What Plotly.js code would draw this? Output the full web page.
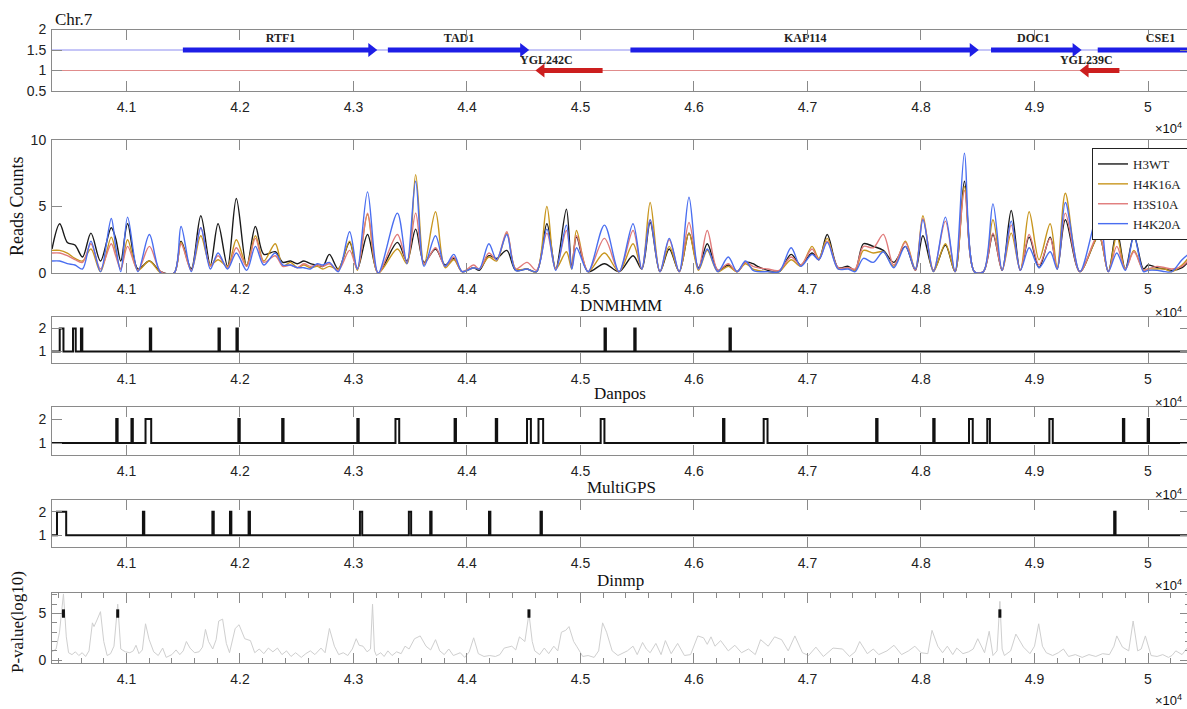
<!DOCTYPE html>
<html><head><meta charset="utf-8">
<script src="https://cdn.plot.ly/plotly-3.0.1.min.js"></script>
<style>html,body{margin:0;padding:0;overflow:hidden;background:#fff}#chart{width:1190px;height:709px}</style>
</head><body><div id="chart"></div>
<script>
// ---------------- DATA ----------------
const xRange = [4.0344, 5.0370];                // x10^4 bp
const xTickVals = [4.1, 4.2, 4.3, 4.4, 4.5, 4.6, 4.7, 4.8, 4.9, 5.0];
const xTickText = ['4.1', '4.2', '4.3', '4.4', '4.5', '4.6', '4.7', '4.8', '4.9', '5'];

// genes
const plusGenes = ['RTF1', 'TAD1', 'KAP114', 'DOC1', 'CSE1'];
const plusStart = [4.1497, 4.3303, 4.5440, 4.8617, 4.9557];
const plusEnd   = [4.3218, 4.4556, 4.8517, 4.9423, 5.0663];
const plusLabelX = [4.2357, 4.3930, 4.6980, 4.8990, 5.0110];
const minusGenes = ['YGL242C', 'YGL239C'];
const minusStart = [4.4595, 4.9389];
const minusEnd   = [4.5195, 4.9748];
const minusLabelX = [4.4700, 4.9456];

// coverage (reads counts)
const covX = [4.0344,4.0412,4.0479,4.0546,4.0613,4.0687,4.0771,4.0866,4.0905,4.0950,
 4.1010,4.1101,4.1202,4.1303,4.1420,4.1481,4.1571,4.1655,4.1739,4.1807,
 4.1891,4.1968,4.2059,4.2136,4.2210,4.2311,4.2378,4.2445,4.2505,4.2563,
 4.2620,4.2681,4.2730,4.2788,4.2866,4.2966,4.3034,4.3124,4.3218,4.3387,
 4.3471,4.3548,4.3622,4.3723,4.3807,4.3884,4.3958,4.4059,4.4109,4.4193,
 4.4261,4.4351,4.4429,4.4529,4.4613,4.4704,4.4782,4.4876,4.4923,4.4965,
 4.5067,4.5211,4.5340,4.5463,4.5540,4.5614,4.5700,4.5782,4.5870,4.5956,
 4.6040,4.6117,4.6210,4.6302,4.6380,4.6453,4.6520,4.6560,4.6650,4.6750,
 4.6856,4.6940,4.7040,4.7100,4.7174,4.7270,4.7359,4.7420,4.7493,4.7580,
 4.7668,4.7760,4.7862,4.7950,4.8017,4.8110,4.8215,4.8300,4.8383,4.8470,
 4.8550,4.8634,4.8715,4.8795,4.8875,4.8953,4.9040,4.9138,4.9200,4.9272,
 4.9400,4.9567,4.9650,4.9725,4.9800,4.9876,4.9960,5.0000,5.0080,5.0150,
 5.0210,5.0300,5.0370];
const h3wt = [1.8,3.7,2.3,2.1,1.2,3.0,0.9,3.4,2.6,0.9,
 3.7,0.3,0.9,0.1,0.0,2.4,0.3,4.3,0.6,3.7,
 0.5,5.6,0.5,3.5,1.4,1.6,0.8,0.9,0.7,0.9,
 0.7,0.6,0.5,1.4,0.3,2.3,0.3,2.9,0.0,2.3,
 0.9,3.3,0.8,1.8,0.6,1.1,0.1,0.4,0.2,1.3,
 1.1,1.7,0.2,0.3,0.1,3.7,0.3,4.8,0.5,2.7,
 0.1,0.7,0.1,1.3,0.3,3.8,0.1,1.8,0.1,3.0,
 0.4,2.2,0.2,0.6,0.1,0.8,0.7,0.5,0.2,0.1,
 1.4,0.6,1.5,1.0,2.9,0.4,0.5,0.2,2.2,2.0,
 1.7,0.8,2.0,0.2,2.8,0.2,2.1,0.1,6.9,0.1,
 0.1,2.9,0.2,4.7,0.2,2.7,0.4,2.7,0.3,4.0,
 0.1,2.8,0.1,3.2,0.3,2.8,0.3,0.6,0.4,0.3,
 0.2,0.4,1.0];
const h4k16a = [1.7,1.7,1.5,1.1,0.9,1.8,0.1,2.7,1.6,0.3,
 2.5,0.2,0.9,0.0,0.0,2.3,0.2,2.8,0.6,1.0,
 0.5,2.5,0.6,2.8,0.9,2.2,0.5,0.8,0.4,0.6,
 0.4,0.5,0.3,0.5,0.3,2.4,0.2,4.4,0.0,1.8,
 0.7,7.4,0.6,4.6,0.4,1.0,0.1,0.4,0.3,1.2,
 0.9,3.0,0.3,0.3,0.1,5.0,0.3,1.6,0.3,3.2,
 0.1,1.5,0.1,2.2,0.3,5.3,0.1,2.0,0.1,3.0,
 0.2,1.7,0.1,0.5,0.1,0.7,0.3,0.2,0.1,0.1,
 1.0,0.5,2.0,1.1,2.6,0.3,0.4,0.2,1.7,1.5,
 1.6,0.5,2.4,0.3,4.3,0.1,2.2,0.1,6.5,0.1,
 0.1,4.0,0.2,3.0,0.2,4.6,1.0,3.7,0.4,6.0,
 0.1,2.8,0.1,2.8,0.3,1.7,0.2,0.3,0.3,0.3,
 0.1,0.6,1.3];
const h3s10a = [1.5,1.5,1.3,1.0,0.8,2.2,0.3,2.2,1.3,0.3,
 2.0,0.2,2.0,0.1,0.0,2.2,0.2,3.4,0.5,1.3,
 0.4,1.9,0.5,2.6,0.8,1.3,0.5,0.6,0.4,0.7,
 0.5,0.6,0.5,0.7,0.2,1.7,0.3,4.5,0.0,2.9,
 0.8,4.5,0.7,1.9,0.5,1.2,0.1,0.6,0.3,1.5,
 1.0,3.1,0.3,0.8,0.2,3.0,0.3,3.2,0.4,2.8,
 0.1,2.6,0.1,3.2,0.3,4.0,0.1,2.5,0.1,3.8,
 0.3,3.2,0.2,0.7,0.1,0.8,0.5,0.4,0.3,0.2,
 1.2,0.6,1.8,1.0,2.4,0.4,0.4,0.3,2.0,1.9,
 2.9,0.6,2.3,0.2,4.1,0.2,3.9,0.1,6.2,0.1,
 0.1,3.0,0.2,3.6,0.2,2.9,0.6,2.6,0.3,4.5,
 0.1,3.0,0.1,2.0,0.3,1.6,0.2,0.3,0.5,0.4,
 0.3,0.5,1.1];
const h4k20a = [0.9,0.9,0.7,0.6,0.3,2.4,0.1,4.1,2.0,0.1,
 4.2,0.1,2.9,0.0,0.0,3.5,0.1,3.4,0.3,1.5,
 0.3,1.5,0.2,2.0,0.6,1.5,0.6,0.6,0.4,0.4,
 0.3,0.7,0.6,0.8,0.1,3.1,0.3,6.1,0.0,4.5,
 0.7,6.9,0.5,2.8,0.5,1.4,0.1,0.4,0.3,2.2,
 1.0,2.9,0.2,0.3,0.1,3.3,0.2,3.6,0.3,1.9,
 0.1,3.6,0.1,3.7,0.3,4.0,0.1,2.6,0.1,5.7,
 0.3,1.8,0.1,1.2,0.1,0.9,0.2,0.1,0.1,0.1,
 1.9,0.5,1.4,1.0,2.3,0.3,0.3,0.1,1.1,0.8,
 1.6,0.4,2.0,0.3,4.0,0.1,4.2,0.1,9.0,0.1,
 0.1,5.2,0.2,3.9,0.2,1.9,0.4,1.6,0.3,5.3,
 0.1,4.6,0.1,1.5,0.2,2.8,0.1,0.2,0.2,0.1,
 0.1,1.0,1.5];
const seriesNames = ['H3WT', 'H4K16A', 'H3S10A', 'H4K20A'];
const seriesColors = ['#1a1a1a', '#c8961e', '#e07a7a', '#4a6ef0'];

// peak calls (intervals, x10^4 bp)
const dnmhmmStart = [4.0412, 4.0529, 4.0599, 4.1206, 4.1811, 4.1969, 4.5212, 4.5474, 4.6313];
const dnmhmmEnd   = [4.0445, 4.0553, 4.0611, 4.1218, 4.1823, 4.1981, 4.5224, 4.5486, 4.6325];
const danposStart = [4.0910, 4.1044, 4.1168, 4.1986, 4.2372, 4.3034, 4.3370, 4.3891, 4.4254, 4.4529, 4.4630,
                     4.5178, 4.6256, 4.6614, 4.7605, 4.8108, 4.8423, 4.8584, 4.9131, 4.9779, 4.9997];
const danposEnd   = [4.0922, 4.1056, 4.1218, 4.1998, 4.2384, 4.3046, 4.3403, 4.3903, 4.4266, 4.4563, 4.4671,
                     4.5211, 4.6268, 4.6648, 4.7617, 4.8120, 4.8456, 4.8607, 4.9161, 4.9791, 5.0009];
const multigpsStart = [4.0388, 4.1145, 4.1757, 4.1912, 4.2076, 4.3057, 4.3488, 4.3676, 4.4194, 4.4648, 4.9702];
const multigpsEnd   = [4.0469, 4.1157, 4.1769, 4.1924, 4.2088, 4.3077, 4.3508, 4.3688, 4.4206, 4.4660, 4.9714];

// Dinmp p-value (log10)
const dinX = [4.0344,4.0380,4.0410,4.0445,4.0470,4.0490,4.0520,4.0550,4.0580,4.0610,
 4.0640,4.0670,4.0700,4.0714,4.0740,4.0771,4.0800,4.0830,4.0860,4.0890,
 4.0923,4.0950,4.0990,4.1030,4.1060,4.1084,4.1110,4.1140,4.1168,4.1200,
 4.1240,4.1280,4.1319,4.1350,4.1400,4.1437,4.1470,4.1500,4.1528,4.1560,
 4.1600,4.1640,4.1670,4.1696,4.1723,4.1760,4.1790,4.1813,4.1847,4.1880,
 4.1908,4.1958,4.1992,4.2042,4.2092,4.2130,4.2170,4.2210,4.2250,4.2290,
 4.2330,4.2370,4.2410,4.2450,4.2490,4.2540,4.2580,4.2620,4.2660,4.2714,
 4.2750,4.2788,4.2832,4.2870,4.2910,4.2950,4.2990,4.3024,4.3050,4.3084,
 4.3120,4.3150,4.3168,4.3185,4.3202,4.3240,4.3270,4.3303,4.3340,4.3380,
 4.3420,4.3454,4.3490,4.3538,4.3588,4.3639,4.3680,4.3723,4.3760,4.3800,
 4.3840,4.3880,4.3941,4.3980,4.4020,4.4059,4.4100,4.4150,4.4200,4.4250,
 4.4290,4.4328,4.4395,4.4430,4.4462,4.4510,4.4546,4.4575,4.4597,4.4640,
 4.4681,4.4720,4.4765,4.4800,4.4832,4.4870,4.4899,4.4940,4.4966,4.5020,
 4.5067,4.5120,4.5160,4.5195,4.5230,4.5279,4.5330,4.5380,4.5413,4.5463,
 4.5500,4.5547,4.5580,4.5614,4.5664,4.5710,4.5748,4.5799,4.5856,4.5916,
 4.5970,4.6034,4.6084,4.6117,4.6150,4.6185,4.6235,4.6302,4.6360,4.6419,
 4.6480,4.6540,4.6587,4.6654,4.6710,4.6772,4.6830,4.6889,4.6956,4.7010,
 4.7074,4.7140,4.7180,4.7225,4.7309,4.7370,4.7420,4.7460,4.7527,4.7580,
 4.7628,4.7700,4.7762,4.7829,4.7890,4.7946,4.8000,4.8060,4.8097,4.8148,
 4.8190,4.8232,4.8280,4.8315,4.8370,4.8420,4.8460,4.8500,4.8560,4.8601,
 4.8634,4.8670,4.8695,4.8715,4.8735,4.8790,4.8836,4.8903,4.8960,4.9000,
 4.9037,4.9070,4.9104,4.9160,4.9210,4.9255,4.9300,4.9360,4.9420,4.9480,
 4.9540,4.9600,4.9660,4.9700,4.9725,4.9775,4.9830,4.9869,4.9909,4.9940,
 4.9977,5.0027,5.0080,5.0130,5.0180,5.0211,5.0245,5.0300,5.0344,5.0370];
const dinY = [0.9,1.2,3.0,7.1,2.5,0.8,0.6,0.9,0.5,0.8,
 0.4,1.0,4.0,3.6,4.3,5.2,2.0,0.5,0.7,1.5,
 6.0,1.2,0.9,0.8,1.0,1.6,0.7,1.1,3.9,2.2,
 0.9,0.5,1.3,0.3,0.6,1.1,0.6,1.0,2.0,1.3,
 0.8,0.9,1.4,3.3,2.0,1.2,2.2,4.2,4.4,1.8,
 0.8,3.4,3.8,2.3,2.1,0.8,1.2,0.7,1.3,0.9,
 1.3,0.6,1.0,0.4,0.8,0.3,0.7,1.0,0.6,1.3,
 0.8,3.4,1.5,0.6,0.8,0.5,1.2,2.3,1.6,1.5,
 0.9,1.2,6.0,1.0,0.5,0.8,0.4,1.0,0.5,0.9,
 0.7,1.5,1.2,2.3,2.6,1.5,1.1,2.2,1.0,0.6,
 1.2,0.5,0.8,0.3,0.9,2.4,0.7,0.4,0.5,0.4,
 0.6,1.3,1.5,1.1,2.5,2.0,5.0,2.0,1.0,0.6,
 1.3,0.7,1.5,1.0,3.0,3.2,3.6,2.0,1.5,0.4,
 0.5,0.3,1.0,4.0,3.0,1.0,0.5,0.8,1.0,1.5,
 0.6,1.9,1.2,0.8,1.8,0.6,2.1,0.7,1.8,0.5,
 0.6,2.6,2.4,1.7,2.5,1.5,2.1,1.0,1.6,0.8,
 1.2,0.6,2.2,1.5,2.5,2.2,1.0,2.6,0.8,0.5,
 1.4,0.4,0.8,1.3,1.2,0.4,0.9,2.0,0.7,1.2,
 0.6,1.0,1.6,0.6,1.0,1.5,0.8,0.7,3.2,1.5,
 0.8,1.5,0.6,1.3,0.7,0.9,1.2,2.3,0.8,3.1,
 0.5,1.0,6.3,1.2,0.5,1.0,2.8,1.4,0.7,1.5,
 3.9,1.5,0.8,0.5,0.8,1.2,0.4,0.6,0.3,0.6,
 0.4,0.7,0.6,1.5,2.6,1.4,1.0,4.2,1.0,1.2,
 2.6,0.5,0.4,0.6,0.3,0.5,1.0,0.6,1.3,0.9];
const dinCallX = [4.0445, 4.0923, 4.4546, 4.8695];
const dinCallY = [5, 5, 5, 5];

// ---------------- LAYOUT HELPERS ----------------
const FIG_W = 1190, FIG_H = 709, ML = 52, PW = FIG_W - ML;
const pxX = px => (px - ML) / PW;
const pxY = py => 1 - py / FIG_H;
const dom = (top, bot) => [pxY(bot), pxY(top)];
const pxPerUnit = PW / (xRange[1] - xRange[0]);
const head = 6.9 / pxPerUnit;

const serif = 'Liberation Serif, Times New Roman, serif';
const sans = 'Liberation Sans, Arial, sans-serif';
const frame = '#8a8a8a';

function stepXY(starts, ends) {
  const x = [xRange[0]], y = [1];
  for (let i = 0; i < starts.length; i++) { x.push(starts[i], starts[i], ends[i], ends[i]); y.push(1, 2, 2, 1); }
  x.push(xRange[1]); y.push(1);
  return {x, y};
}

const traces = [];
// gene panel
traces.push({x: xRange, y: [1.5, 1.5], mode: 'lines', line: {color: '#8c8cf0', width: 1}, xaxis: 'x', yaxis: 'y', showlegend: false, hoverinfo: 'skip'});
traces.push({x: xRange, y: [1, 1], mode: 'lines', line: {color: '#e08c8c', width: 1}, xaxis: 'x', yaxis: 'y', showlegend: false, hoverinfo: 'skip'});
{
  const sx = [], sy = [], hx = [], hy = [];
  plusStart.forEach((s, i) => { sx.push(s, plusEnd[i] - head, null); sy.push(1.5, 1.5, null); hx.push(plusEnd[i] - head); hy.push(1.5); });
  traces.push({x: sx, y: sy, mode: 'lines', line: {color: '#1e1ee6', width: 5}, xaxis: 'x', yaxis: 'y', showlegend: false});
  traces.push({x: hx, y: hy, mode: 'markers', marker: {symbol: 'triangle-right', size: 12, color: '#1e1ee6'}, xaxis: 'x', yaxis: 'y', showlegend: false});
  const rx = [], ry = [], rhx = [], rhy = [];
  minusStart.forEach((s, i) => { rx.push(s + head, minusEnd[i], null); ry.push(1, 1, null); rhx.push(s + head); rhy.push(1); });
  traces.push({x: rx, y: ry, mode: 'lines', line: {color: '#cc1e1e', width: 5}, xaxis: 'x', yaxis: 'y', showlegend: false});
  traces.push({x: rhx, y: rhy, mode: 'markers', marker: {symbol: 'triangle-left', size: 12, color: '#cc1e1e'}, xaxis: 'x', yaxis: 'y', showlegend: false});
  traces.push({x: plusLabelX, y: plusGenes.map(() => 1.77), text: plusGenes.map(g => '<b>' + g + '</b>'), mode: 'text',
    textfont: {family: serif, size: 12, color: '#222'}, xaxis: 'x', yaxis: 'y', showlegend: false});
  traces.push({x: minusLabelX, y: minusGenes.map(() => 1.23), text: minusGenes.map(g => '<b>' + g + '</b>'), mode: 'text',
    textfont: {family: serif, size: 12, color: '#222'}, xaxis: 'x', yaxis: 'y', showlegend: false});
}
// coverage
[h3wt, h4k16a, h3s10a, h4k20a].forEach((ys, i) => {
  traces.push({x: covX, y: ys, name: seriesNames[i], mode: 'lines', line: {color: seriesColors[i], width: 1.4, shape: 'spline', smoothing: 0.9},
    xaxis: 'x2', yaxis: 'y2'});
});
// peak calls
[[dnmhmmStart, dnmhmmEnd], [danposStart, danposEnd], [multigpsStart, multigpsEnd]].forEach((p, i) => {
  const s = stepXY(p[0], p[1]);
  traces.push({x: s.x, y: s.y, mode: 'lines', line: {color: '#111', width: 2}, xaxis: 'x' + (i + 3), yaxis: 'y' + (i + 3), showlegend: false});
});
// dinmp
traces.push({x: dinX, y: dinY, mode: 'lines', line: {color: '#cfcfcf', width: 1}, xaxis: 'x6', yaxis: 'y6', showlegend: false});
traces.push({x: dinCallX, y: dinCallY, mode: 'markers', marker: {symbol: 'line-ns', size: 6, line: {width: 3, color: '#111'}}, xaxis: 'x6', yaxis: 'y6', showlegend: false});

const axBase = {showline: true, mirror: 'ticks', linecolor: frame, linewidth: 1, ticks: 'inside', ticklen: 10, tickcolor: frame,
  tickwidth: 1, zeroline: false, showgrid: false, tickfont: {family: sans, size: 14, color: '#222'}, fixedrange: true};
const xAx = (anchor, extra) => Object.assign({}, axBase, {anchor: anchor, range: xRange, tickvals: xTickVals, ticktext: xTickText, ticklabelstandoff: 3}, extra || {});
const yAx = (anchor, domain, range, tv, extra) => Object.assign({}, axBase, {anchor: anchor, domain: domain, range: range, tickvals: tv, ticktext: tv.map(String), ticklabelstandoff: 2}, extra || {});

const domains = [dom(29.5, 91), dom(140, 273), dom(317, 363), dom(407, 455), dom(500, 547), dom(593, 663)];

const layout = {
  width: FIG_W, height: FIG_H, margin: {l: ML, r: 0, t: 0, b: 0}, paper_bgcolor: '#fff', plot_bgcolor: '#fff',
  showlegend: true,
  legend: {x: pxX(1092), y: pxY(148), xanchor: 'left', yanchor: 'top', bgcolor: '#fff', bordercolor: '#222', borderwidth: 1,
    font: {family: serif, size: 13, color: '#222'}, itemwidth: 30, tracegroupgap: 0},
  xaxis: xAx('y'), yaxis: yAx('x', domains[0], [0.5, 2], [0.5, 1, 1.5, 2]),
  xaxis2: xAx('y2'), yaxis2: yAx('x2', domains[1], [0, 10], [0, 5, 10]),
  xaxis3: xAx('y3'), yaxis3: yAx('x3', domains[2], [0.5, 2.5], [1, 2]),
  xaxis4: xAx('y4'), yaxis4: yAx('x4', domains[3], [0.5, 2.5], [1, 2]),
  xaxis5: xAx('y5'), yaxis5: yAx('x5', domains[4], [0.5, 2.5], [1, 2]),
  xaxis6: xAx('y6', {minor: {dtick: 0.02, ticks: 'inside', ticklen: 5, tickcolor: frame}}),
  yaxis6: yAx('x6', domains[5], [-0.3, 7.2], [0, 5], {minor: {dtick: 1, ticks: 'inside', ticklen: 5, tickcolor: frame}}),
  annotations: []
};
const ann = (text, px, py, size, family, xanchor, extra) => Object.assign({text: text, xref: 'paper', yref: 'paper', x: pxX(px), y: pxY(py),
  xanchor: xanchor || 'center', yanchor: 'middle', showarrow: false, font: {family: family, size: size, color: '#111'}}, extra || {});
layout.annotations.push(ann('Chr.7', 53, 20, 17, serif, 'left'));
layout.annotations.push(ann('Reads Counts', 17, 206, 18, serif, 'center', {textangle: -90}));
layout.annotations.push(ann('P-value(log10)', 17, 622, 17, serif, 'center', {textangle: -90}));
layout.annotations.push(ann('DNMHMM', 621, 305, 17, serif));
layout.annotations.push(ann('Danpos', 620, 393, 17, serif));
layout.annotations.push(ann('MultiGPS', 621, 487, 17, serif));
layout.annotations.push(ann('Dinmp', 620, 580, 17, serif));
[128, 312, 402, 494, 585, 700].forEach(py => layout.annotations.push(ann('×10<sup>4</sup>', 1153, py, 13, sans, 'left')));

Plotly.newPlot('chart', traces, layout, {displayModeBar: false, staticPlot: true});
</script></body></html>
